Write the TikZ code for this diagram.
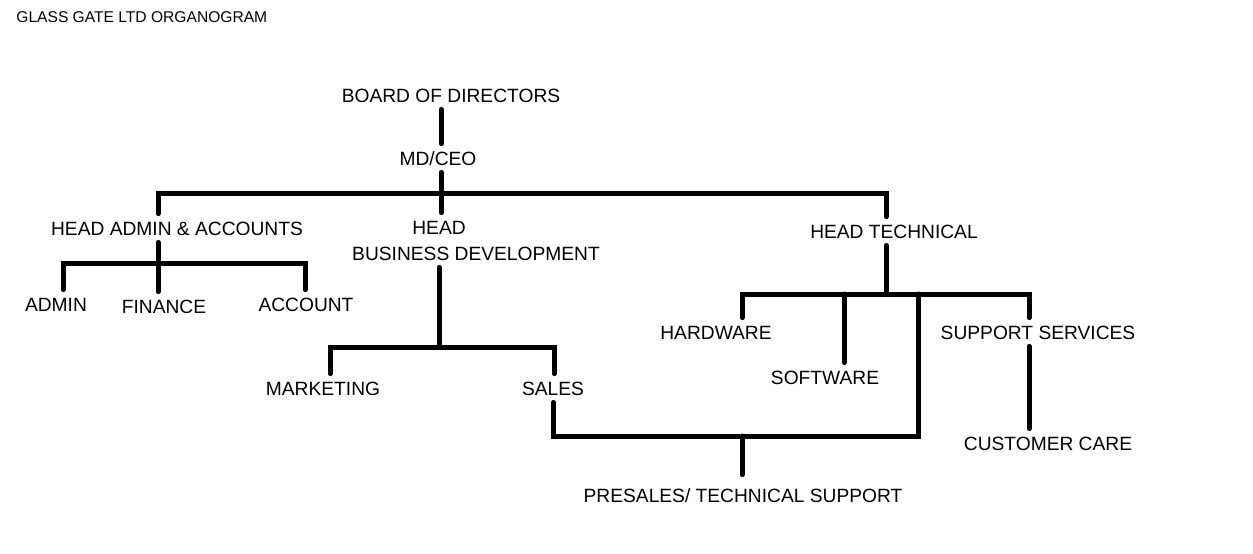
\documentclass[tikz,border=0pt]{standalone}
\usepackage{fontspec}
\setmainfont{Liberation Sans}
\usepackage{xcolor}
\definecolor{chartink}{RGB}{0,0,0}

\begin{document}
\begin{tikzpicture}[
  x=0.5pt, y=-0.5pt,
  unit/.style={inner sep=3.5pt, text height=7pt, text depth=0pt, text=chartink, font=\fontsize{9.6}{11}\selectfont},
  caption/.style={anchor=west, inner sep=0pt, text=chartink, font=\fontsize{7.8}{9}\selectfont},
  link/.style={draw=chartink, line width=2.5pt, line cap=round}
]
\useasboundingbox (0,0) rectangle (1253,553);

\node[caption] (title) at (16,17) {GLASS GATE LTD ORGANOGRAM};

\node[unit] (board) at (451,95) {BOARD OF DIRECTORS};
\node[unit] (md) at (438,158) {MD/CEO};
\node[unit] (had) at (177,228) {HEAD ADMIN \& ACCOUNTS};
\node[unit] (hbd) at (439,227) {HEAD};
\node[unit] (hbdl) at (476,253) {BUSINESS DEVELOPMENT};
\node[unit] (ht) at (894,231) {HEAD TECHNICAL};
\node[unit] (admin) at (56,304) {ADMIN};
\node[unit] (fin) at (164,306) {FINANCE};
\node[unit] (account) at (306,304) {ACCOUNT};
\node[unit] (mkt) at (323,388) {MARKETING};
\node[unit] (sales) at (553,388) {SALES};
\node[unit] (hw) at (716,332) {HARDWARE};
\node[unit] (sw) at (825,377) {SOFTWARE};
\node[unit] (ss) at (1038,332) {SUPPORT SERVICES};
\node[unit] (cc) at (1048,443) {CUSTOMER CARE};
\node[unit] (pre) at (743,495) {PRESALES/ TECHNICAL SUPPORT};

% bus junctions
\coordinate (ceoj) at (441,193);
\coordinate (busL) at (158,193);
\coordinate (busR) at (886,193);
\coordinate (adL) at (63,263);
\coordinate (adR) at (305,263);
\coordinate (bdj) at (439,347);
\coordinate (bdL) at (330,347);
\coordinate (bdR) at (554,347);
\coordinate (tL) at (742,294);
\coordinate (tsw) at (844,294);
\coordinate (tps) at (918,294);
\coordinate (tR) at (1029,294);
\coordinate (psL) at (553,436);
\coordinate (psj) at (742,436);
\coordinate (psR) at (918,436);

\draw[link] (board.south -| ceoj) -- (md.north -| ceoj);
\draw[link] (md.south -| ceoj) -- (hbd.north -| ceoj);
\draw[link] (had.north -| busL) -- (busL) -- (busR) -- (ht.north -| busR);

\draw[link] (had.south -| busL) -- (fin.north -| busL);
\draw[link] (admin.north -| adL) -- (adL) -- (adR) -- (account.north -| adR);

\draw[link] (hbdl.south -| bdj) -- (bdj);
\draw[link] (mkt.north -| bdL) -- (bdL) -- (bdR) -- (sales.north -| bdR);

\draw[link] (ht.south -| busR) -- (busR |- tL);
\draw[link] (hw.north -| tL) -- (tL) -- (tR) -- (ss.north -| tR);
\draw[link] (tsw) -- (sw.north -| tsw);
\draw[link] (ss.south -| tR) -- (cc.north -| tR);

\draw[link] (sales.south -| psL) -- (psL) -- (psR) -- (tps);
\draw[link, shorten >=3pt] (psj) -- (pre.north -| psj);
\end{tikzpicture}
\end{document}
